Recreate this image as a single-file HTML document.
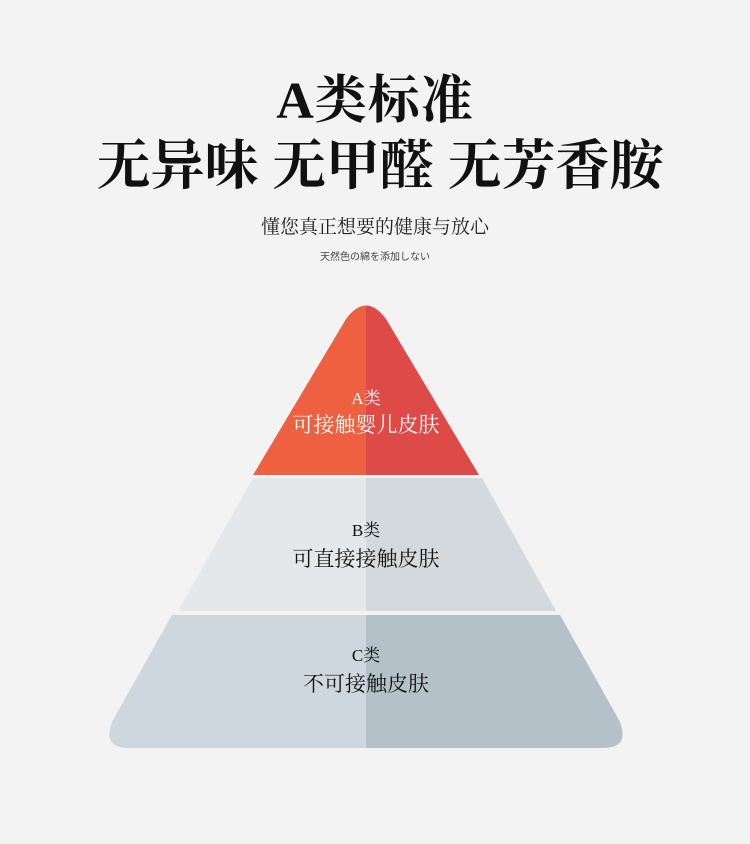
<!DOCTYPE html>
<html><head><meta charset="utf-8"><style>
body{margin:0;width:750px;height:844px;background:#f3f3f3;overflow:hidden;position:relative;font-family:"Liberation Serif","Noto Serif CJK SC",serif}
.t{position:absolute;left:0;width:750px;text-align:center;color:#111}
.p{left:-9px}
</style></head><body>
<div class="t" style="top:72px;font-size:52px;font-weight:bold;line-height:60px;letter-spacing:1px">A类标准</div>
<div class="t" style="top:135px;font-size:54px;font-weight:bold;line-height:62px;left:5px">无异味 无甲醛 无芳香胺</div>
<div class="t" style="top:216px;font-size:19px;line-height:24px;color:#222">懂您真正想要的健康与放心</div>
<div class="t" style="top:251px;font-size:10px;line-height:14px;color:#444;font-family:'Liberation Sans','Noto Sans CJK JP',sans-serif">天然色の綿を添加しない</div>
<svg width="750" height="844" style="position:absolute;left:0;top:0">
<defs><clipPath id="l"><rect x="0" y="0" width="366" height="844"/></clipPath><clipPath id="r"><rect x="366" y="0" width="400" height="844"/></clipPath></defs>
<g clip-path="url(#l)">
<path d="M253,475 L346,319 Q366,292 386,319 L479,475 Z" fill="#ee6140"/>
<path d="M253,478 L482,478 L556,611 L178,611 Z" fill="#e4e8eb"/>
<path d="M172,615 L560,615 L619,720 Q631,748 603,748 L129,748 Q101,748 113,720 Z" fill="#cdd7dd"/>
</g>
<g clip-path="url(#r)">
<path d="M253,475 L346,319 Q366,292 386,319 L479,475 Z" fill="#dd4a48"/>
<path d="M253,478 L482,478 L556,611 L178,611 Z" fill="#d3d9dd"/>
<path d="M172,615 L560,615 L619,720 Q631,748 603,748 L129,748 Q101,748 113,720 Z" fill="#b5c1c8"/>
</g>
</svg>
<div class="t p" style="top:388px;font-size:17px;line-height:22px;color:#fff">A类</div>
<div class="t p" style="top:412px;font-size:21px;line-height:26px;color:#fff">可接触婴儿皮肤</div>
<div class="t p" style="top:520px;font-size:17px;line-height:22px">B类</div>
<div class="t p" style="top:546px;font-size:21px;line-height:26px">可直接接触皮肤</div>
<div class="t p" style="top:645px;font-size:17px;line-height:22px">C类</div>
<div class="t p" style="top:671px;font-size:21px;line-height:26px">不可接触皮肤</div>
</body></html>
